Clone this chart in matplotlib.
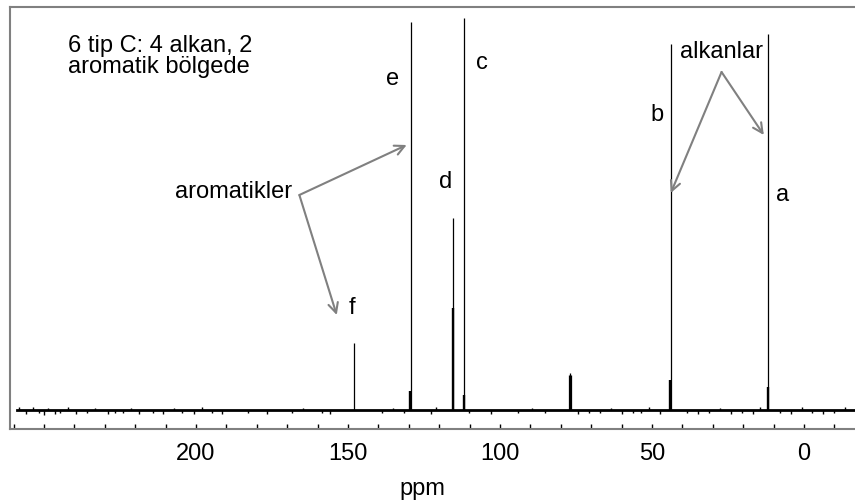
import matplotlib
matplotlib.use('Agg')
import matplotlib.pyplot as plt
from matplotlib.ticker import MultipleLocator

plt.rcParams['font.family'] = ['Liberation Sans', 'DejaVu Sans']

# 13C spectrum (ppm, intensity in arbitrary units)
peak_ppm = [148.0, 129.4, 115.6, 111.8, 77.4, 77.0, 76.6, 43.75, 11.7]
peak_height = [67, 388, 192, 392, 35, 37, 35, 366, 376]
# broader lower parts of some peaks
shoulder_ppm = [129.6, 115.35, 111.9, 43.9, 11.8]
shoulder_height = [19, 102, 15, 30, 23]
baseline_ppm = [259, -17]

# small baseline noise spikes
noise_ppm = [258.2, 255.9, 253.7, 251.6, 250.1, 248.7, 246.5, 244.7, 242.0, 239.4,
             235.8, 233.1, 229.0, 226.8, 224.1, 221.4, 218.7, 214.2, 210.7, 207.1,
             204.7, 200.8, 198.1, 194.9, 191.3, 182.9, 176.6, 168.5, 164.9, 158.7,
             155.9, 138.9, 135.3, 131.7, 122.8, 121.0, 110.2, 103.1, 94.1, 89.6,
             85.1, 74.3, 70.8, 67.2, 63.6, 60.0, 56.4, 53.7, 51.0, 47.4,
             38.5, 34.9, 31.3, 27.7, 24.1, 20.5, 16.9, 14.3, 8.0, 4.4,
             0.8, -2.8, -6.3, -9.9, -13.6]
noise_amp = [3, -4, 3, -3, -5, 2, -4, -3, 3, -4,
             -3, 2, -4, -3, -3, 2, -4, -3, -4, 2,
             -3, -4, 3, -3, -4, -3, -4, -3, 2, -3,
             -4, -3, 2, -3, -4, 3, -3, -4, -3, 2,
             -3, -4, -3, -3, 2, -4, -3, -3, 3, -4,
             -3, -4, -3, 2, -4, -3, -4, 3, -3, -4,
             3, -3, -4, -3, 3]

# peak letters
label_text = ['e', 'c', 'd', 'b', 'a', 'f']
label_ppm = [135.3, 106.0, 117.8, 48.5, 6.9, 148.8]
label_y = [331, 347, 228, 295, 215, 102]

major_ticks = [200, 150, 100, 50, 0]

fig = plt.figure(figsize=(8.55, 5.04), dpi=100)
ax = fig.add_axes([10 / 855, 1 - 429 / 504, 845 / 855, 422 / 504])

ax.plot(baseline_ppm, [0, 0], color='black', lw=2.0)
ax.vlines(noise_ppm, 0, noise_amp, color='black', lw=1.0)
ax.vlines(shoulder_ppm, 0, shoulder_height, color='black', lw=1.7)
ax.vlines(peak_ppm, 0, peak_height, color='black', lw=0.9)

for t, x, y in zip(label_text, label_ppm, label_y):
    ax.text(x, y, t, fontsize=17, ha='center', va='center')

ax.text(242.1, 375, '6 tip C: 4 alkan, 2\naromatik bölgede', fontsize=17,
        ha='left', va='top', linespacing=0.92)

arrow = dict(arrowstyle='->,head_length=0.7,head_width=0.35', color='#808080',
             lw=1.5, shrinkA=0, shrinkB=0, mutation_scale=10)

ax.text(187.8, 218, 'aromatikler', fontsize=17, ha='center', va='center')
ax.annotate('', xy=(130.7, 265), xytext=(166.0, 215), arrowprops=arrow)
ax.annotate('', xy=(153.7, 95), xytext=(166.0, 215), arrowprops=arrow)

ax.text(27.1, 358, 'alkanlar', fontsize=17, ha='center', va='center')
ax.annotate('', xy=(43.8, 217), xytext=(27.1, 338), arrowprops=arrow)
ax.annotate('', xy=(13.2, 275), xytext=(27.1, 338), arrowprops=arrow)

ax.set_xlim(261.2, -16.8)
ax.set_ylim(-19, 403)
ax.set_yticks([])
ax.set_xticks(major_ticks)
ax.set_xticklabels([str(v) for v in major_ticks])
ax.xaxis.set_minor_locator(MultipleLocator(10))
ax.tick_params(axis='x', which='both', direction='in', length=3.5, width=1,
               labelsize=17, pad=10)

ax.spines['right'].set_visible(False)
for s in ['left', 'top', 'bottom']:
    ax.spines[s].set_color('#808080')
    ax.spines[s].set_linewidth(1.5)

ax.set_xlabel('ppm', fontsize=17)
ax.xaxis.set_label_coords(0.4876, -0.116)

fig.savefig('out.png', dpi=100)
